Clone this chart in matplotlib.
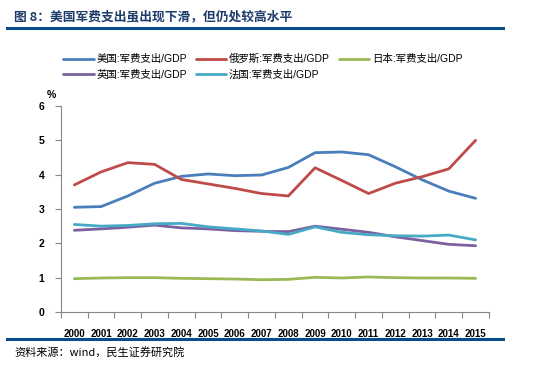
import matplotlib
matplotlib.use('Agg')
import matplotlib.pyplot as plt
from matplotlib.lines import Line2D

plt.rcParams['font.family'] = ['Liberation Sans', 'Noto Sans CJK SC', 'DejaVu Sans']

years = [str(y) for y in range(2000, 2016)]
us = [3.05, 3.07, 3.38, 3.75, 3.95, 4.02, 3.97, 3.99, 4.21, 4.64, 4.66, 4.58, 4.23, 3.85, 3.52, 3.31]
russia = [3.70, 4.08, 4.35, 4.30, 3.86, 3.73, 3.60, 3.45, 3.38, 4.20, 3.83, 3.45, 3.75, 3.94, 4.17, 5.00]
japan = [0.97, 0.99, 1.00, 1.00, 0.98, 0.97, 0.96, 0.94, 0.95, 1.01, 0.99, 1.02, 1.00, 0.99, 0.99, 0.98]
uk = [2.38, 2.42, 2.47, 2.53, 2.45, 2.42, 2.37, 2.35, 2.34, 2.50, 2.41, 2.32, 2.19, 2.08, 1.97, 1.93]
france = [2.55, 2.50, 2.52, 2.57, 2.58, 2.48, 2.42, 2.36, 2.26, 2.48, 2.32, 2.25, 2.22, 2.21, 2.24, 2.10]

names = ['美国:军费支出/GDP', '俄罗斯:军费支出/GDP', '日本:军费支出/GDP',
         '英国:军费支出/GDP', '法国:军费支出/GDP']
series = [us, russia, japan, uk, france]
colors = ['#4a7ebb', '#be4b48', '#98b954', '#7d60a0', '#46aac5']

fig = plt.figure(figsize=(5.48, 3.68), dpi=100)
ax = fig.add_axes([0.1113, 0.1522, 0.781, 0.5598])

x = list(range(len(years)))
lines = []
for vals, c, n in zip(series, colors, names):
    ln, = ax.plot(x, vals, color=c, linewidth=2.0, label=n, solid_capstyle='round')
    lines.append(ln)

ax.set_xlim(-0.5, 15.5)
ax.set_ylim(0, 6)
ax.set_yticks(range(0, 7))
ax.set_xticks([i - 0.5 for i in range(17)])
ax.set_xticklabels([])
ax.set_xticks(x, minor=True)
ax.set_xticklabels(years, minor=True, fontsize=7, fontweight='bold')
ax.tick_params(axis='x', which='minor', length=0, pad=12)
ax.tick_params(axis='x', which='major', length=4, color='#868686', direction='out')
ax.tick_params(axis='y', length=4, color='#868686', direction='out', labelsize=7.5, pad=8)
for lab in ax.get_yticklabels():
    lab.set_fontweight('bold')
for s in ['top', 'right']:
    ax.spines[s].set_visible(False)
for s in ['left', 'bottom']:
    ax.spines[s].set_color('#868686')

fig.text(0.093, 0.728, '%', fontsize=7.5, fontweight='bold', ha='center', va='bottom')

# legend: row 1 US / Russia / Japan, row 2 UK / France
order = [0, 3, 1, 4, 2]
fig.legend([lines[i] for i in order], [names[i] for i in order], ncol=3,
           loc='upper left', bbox_to_anchor=(0.108, 0.865), frameon=False,
           fontsize=7.5, handlelength=2.9, columnspacing=0.9, handletextpad=0.25,
           labelspacing=0.55, borderaxespad=0)

# title and rules
fig.text(0.025, 0.953, '图 8：美国军费支出虽出现下滑，但仍处较高水平', fontsize=9.2,
         fontweight='bold', color='#1f3d6b', family=['Noto Sans CJK SC', 'DejaVu Sans'],
         va='center')
fig.add_artist(Line2D([0.013, 0.918], [0.925, 0.925], color='#0b4a8b', linewidth=2.2))
fig.add_artist(Line2D([0.013, 0.918], [0.079, 0.079], color='#0b4a8b', linewidth=2.2))
fig.text(0.027, 0.043, '资料来源：wind，民生证券研究院', fontsize=8,
         family=['Noto Sans CJK SC', 'DejaVu Sans'], va='center')

fig.savefig('out.png', dpi=100)
